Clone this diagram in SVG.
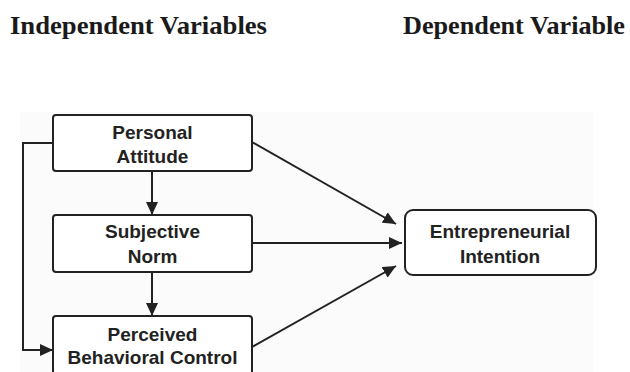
<svg xmlns="http://www.w3.org/2000/svg" width="630" height="372" viewBox="0 0 630 372">
  <style>
    .title { font-family: "Liberation Serif", "Times New Roman", serif; font-weight: bold; font-size: 25px; fill: #1a1a1a; }
    .box { fill: #ffffff; stroke: #222222; stroke-width: 2; }
    .label { font-family: "Liberation Sans", Arial, sans-serif; font-weight: bold; font-size: 19px; fill: #222222; text-anchor: middle; }
    .edge { fill: none; stroke: #222222; stroke-width: 2; }
  </style>
  <defs>
    <marker id="arrow" markerUnits="userSpaceOnUse" markerWidth="14" markerHeight="12" refX="13" refY="6" orient="auto">
      <path d="M0,0 L13,6 L0,12 Z" fill="#222222"/>
    </marker>
  </defs>

  <rect width="630" height="372" fill="#ffffff"/>
  <!-- faint panel behind the model -->
  <rect x="20" y="112" width="573" height="262" fill="#fbfbfb"/>

  <g id="headings">
    <text class="title" x="10" y="34" textLength="257" lengthAdjust="spacingAndGlyphs">Independent Variables</text>
    <text class="title" x="403" y="34" textLength="222" lengthAdjust="spacingAndGlyphs">Dependent Variable</text>
  </g>

  <g id="connectors">
    <path class="edge" d="M152,171 L152,215" marker-end="url(#arrow)"/>
    <path class="edge" d="M152,272 L152,316" marker-end="url(#arrow)"/>
    <path class="edge" d="M53,143 L23,143 L23,350 L53,350" marker-end="url(#arrow)"/>
    <path class="edge" d="M252,142 L396,224" marker-end="url(#arrow)"/>
    <path class="edge" d="M252,243 L402,243" marker-end="url(#arrow)"/>
    <path class="edge" d="M252,347 L396,266" marker-end="url(#arrow)"/>
  </g>

  <g id="personal-attitude">
    <rect class="box" x="53" y="115" width="199" height="56" rx="3"/>
    <text class="label" x="152.5" y="139">Personal</text>
    <text class="label" x="152.5" y="163">Attitude</text>
  </g>

  <g id="subjective-norm">
    <rect class="box" x="53" y="215" width="199" height="57" rx="3"/>
    <text class="label" x="152.5" y="238">Subjective</text>
    <text class="label" x="152.5" y="263">Norm</text>
  </g>

  <g id="perceived-behavioral-control">
    <rect class="box" x="53" y="316" width="199" height="58" rx="3"/>
    <text class="label" x="152.5" y="341">Perceived</text>
    <text class="label" x="152.5" y="364">Behavioral Control</text>
  </g>

  <g id="entrepreneurial-intention">
    <rect class="box" x="405" y="210" width="191" height="65" rx="8"/>
    <text class="label" x="500" y="238">Entrepreneurial</text>
    <text class="label" x="500" y="263">Intention</text>
  </g>
</svg>
